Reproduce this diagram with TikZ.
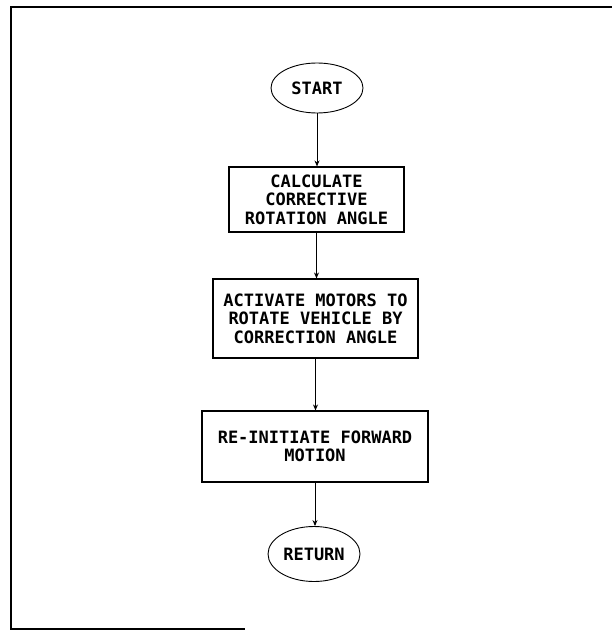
\documentclass[tikz,border=0pt]{standalone}
\usepackage{fontspec}
\setmonofont{DejaVu Sans Mono}
\usetikzlibrary{shapes.geometric,arrows.meta}
\begin{document}
\begin{tikzpicture}[x=1pt,y=-1pt,
  every node/.style={font=\ttfamily\bfseries\fontsize{17}{18.5}\selectfont},
  term/.style={draw, ellipse, line width=0.9pt, inner sep=0pt},
  procbox/.style={draw, rectangle, line width=1.1pt, align=center, inner sep=0pt},
  flow/.style={draw, line width=0.9pt, -{Stealth[length=6pt,width=5pt]}},
  frameline/.style={line width=1.8pt}]
\useasboundingbox (0,0) rectangle (612,631);
% frame
\coordinate (ftl) at (11,7);
\coordinate (ftr) at (612,7);
\coordinate (fbl) at (11,629);
\coordinate (fbr) at (245,629);
\draw[frameline] (ftr) -- (ftl) -- (fbl) -- (fbr);
% nodes
\node[term, minimum width=92pt, minimum height=50pt] (start) at (317,88) {START};
\node[procbox, minimum width=175pt, minimum height=65pt] (b1) at (316.5,199.5)
  {CALCULATE\\CORRECTIVE\\ROTATION ANGLE};
\node[procbox, minimum width=205pt, minimum height=79pt] (b2) at (315.5,318.5)
  {ACTIVATE MOTORS TO\\ROTATE VEHICLE BY\\CORRECTION ANGLE};
\node[procbox, minimum width=226pt, minimum height=71pt] (b3) at (315,446.5)
  {RE-INITIATE FORWARD\\MOTION};
\node[term, minimum width=92pt, minimum height=55pt] (ret) at (314,554) {RETURN};
% connectors
\draw[flow] (start) -- (start |- b1.north);
\draw[flow] (b1) -- (b1 |- b2.north);
\draw[flow] (b2) -- (b2 |- b3.north);
\draw[flow] (b3) -- (b3 |- ret.north);
\end{tikzpicture}
\end{document}
